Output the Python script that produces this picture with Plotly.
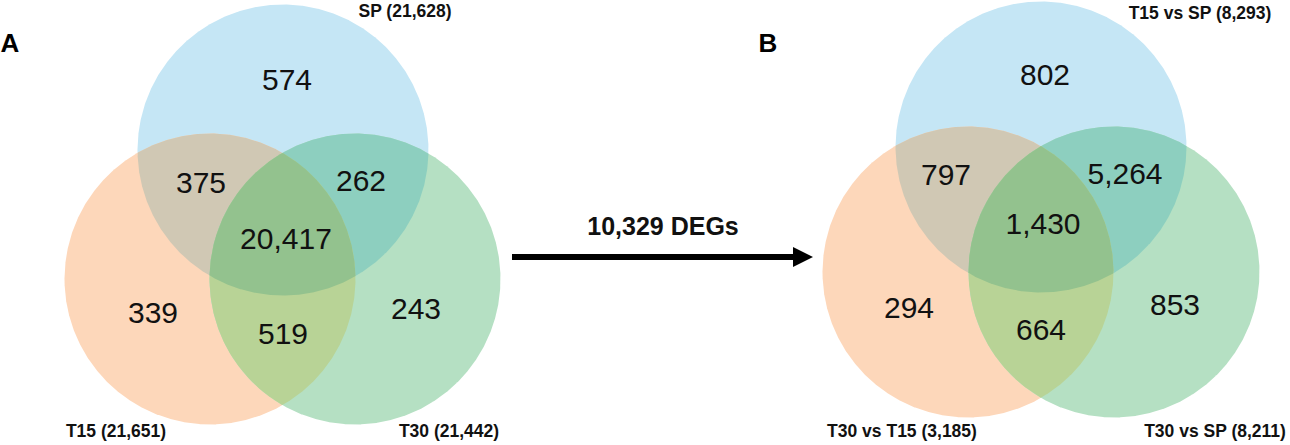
import numpy as np
import plotly.graph_objects as go

# ---------------- data ----------------
panel_letters = ["A", "B"]
set_labels_A = ["SP (21,628)", "T15 (21,651)", "T30 (21,442)"]
set_labels_B = ["T15 vs SP (8,293)", "T30 vs T15 (3,185)", "T30 vs SP (8,211)"]
# region order: top-only, top&left, top&right, all, left-only, left&right, right-only
region_names = ["top", "top_left", "top_right", "all", "left", "left_right", "right"]
counts_A = [574, 375, 262, 20417, 339, 519, 243]
counts_B = [802, 797, 5264, 1430, 294, 664, 853]
arrow_label = "10,329 DEGs"

# ---------------- layout geometry (pixels) ----------------
W, H = 1290, 445
R = 145.5
circles_A = [(283, 150), (210, 279), (355, 279)]   # top (blue), left (orange), right (green)
circles_B = [(1041, 147), (968, 272), (1114, 272)]
text_pos_A = [(287, 82), (201, 185), (361, 183), (286, 241), (153, 315), (283, 336), (416, 311)]
text_pos_B = [(1045, 77), (946, 177), (1125, 176), (1043, 226), (909, 310), (1041, 332), (1175, 307)]
label_pos_A = [(405, 13), (116, 433), (449, 433)]
label_pos_B = [(1200, 15), (902, 433), (1215, 433)]
letter_pos = [(10, 45), (768, 45)]

col_single = ["#c5e6f5", "#fdd7ba", "#b5e0c3"]
col_pair = {(0, 1): "#d0c8b4", (0, 2): "#8dcfbf", (1, 2): "#b8d396"}
col_all = "#93c28e"


def region(circles, idx, n=1440):
    t = np.linspace(0, 2 * np.pi, n, endpoint=False)
    xs, ys = [], []
    for i in idx:
        cx, cy = circles[i]
        px = cx + R * np.cos(t)
        py = cy + R * np.sin(t)
        keep = np.ones(n, bool)
        for j in idx:
            if j == i:
                continue
            ox, oy = circles[j]
            keep &= (px - ox) ** 2 + (py - oy) ** 2 <= R ** 2 + 1e-6
        xs.append(px[keep])
        ys.append(py[keep])
    xs = np.concatenate(xs)
    ys = np.concatenate(ys)
    mx, my = xs.mean(), ys.mean()
    order = np.argsort(np.arctan2(ys - my, xs - mx))
    xs, ys = xs[order], ys[order]
    return np.append(xs, xs[0]), np.append(ys, ys[0])


fig = go.Figure()
FONT = "Liberation Sans, Arial"


def add_venn(circles, counts, text_pos, labels, label_pos):
    layers = [((0,), col_single[0]), ((1,), col_single[1]), ((2,), col_single[2])]
    layers += [(k, v) for k, v in col_pair.items()]
    layers += [((0, 1, 2), col_all)]
    for idx, col in layers:
        x, y = region(circles, idx)
        fig.add_trace(go.Scatter(x=x, y=y, mode="lines", fill="toself", fillcolor=col,
                                 line=dict(width=0, color=col), hoverinfo="skip",
                                 showlegend=False))
    fig.add_trace(go.Scatter(
        x=[p[0] for p in text_pos], y=[p[1] for p in text_pos], mode="text",
        text=[f"{c:,}" for c in counts], cliponaxis=False,
        textfont=dict(family=FONT, size=30, color="#111111"),
        hoverinfo="skip", showlegend=False))
    fig.add_trace(go.Scatter(
        x=[p[0] for p in label_pos], y=[p[1] for p in label_pos], mode="text",
        text=labels, cliponaxis=False,
        textfont=dict(family=FONT, size=17.5, color="#111111", weight="bold"),
        hoverinfo="skip", showlegend=False))


add_venn(circles_A, counts_A, text_pos_A, set_labels_A, label_pos_A)
add_venn(circles_B, counts_B, text_pos_B, set_labels_B, label_pos_B)

fig.add_trace(go.Scatter(
    x=[p[0] for p in letter_pos], y=[p[1] for p in letter_pos], mode="text",
    text=panel_letters, cliponaxis=False,
    textfont=dict(family=FONT, size=26, color="#000000", weight="bold"),
    hoverinfo="skip", showlegend=False))

fig.add_trace(go.Scatter(
    x=[663], y=[229], mode="text", text=[arrow_label], cliponaxis=False,
    textfont=dict(family=FONT, size=25, color="#111111", weight="bold"),
    hoverinfo="skip", showlegend=False))

# arrow
fig.add_shape(type="line", x0=512, y0=257, x1=796, y1=257, xref="x", yref="y",
              line=dict(color="#000000", width=6))
fig.add_shape(type="path", path="M 793 247 L 813 257 L 793 267 Z", xref="x", yref="y",
              fillcolor="#000000", line=dict(width=0))

fig.update_layout(
    width=W, height=H, margin=dict(l=0, r=0, t=0, b=0),
    paper_bgcolor="white", plot_bgcolor="white",
    xaxis=dict(range=[0, W], visible=False, fixedrange=True),
    yaxis=dict(range=[H, 0], visible=False, fixedrange=True),
)

fig.write_html(
    "out.html",
    config={"displayModeBar": False},
    post_script="document.body.style.margin='0';document.body.style.overflow='hidden';",
)
